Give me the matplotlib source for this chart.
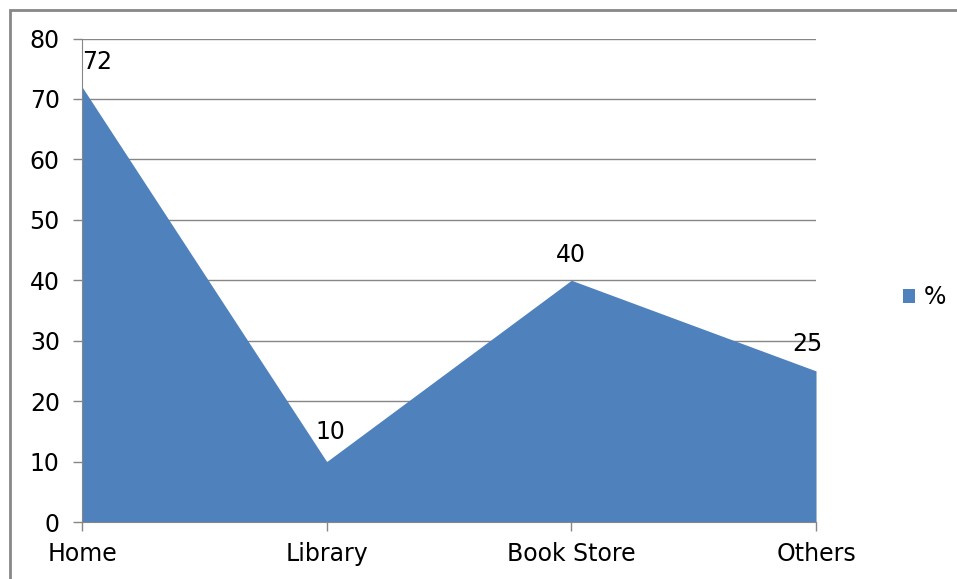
import numpy as np
import matplotlib.pyplot as plt
from matplotlib.patches import Rectangle

categories = ['Home', 'Library', 'Book Store', 'Others']
percent = [72, 10, 40, 25]
yticks = [0, 10, 20, 30, 40, 50, 60, 70, 80]

plt.rcParams['font.family'] = ['DejaVu Sans']
FS = 17

fig = plt.figure(figsize=(9.57, 5.79), dpi=100)
ax = fig.add_axes([0.0857, 0.0984, 0.7670, 0.8351])

x = np.arange(len(categories))
ax.fill_between(x, percent, 0, color='#4F81BD', linewidth=0, zorder=2, label='%')

ax.set_xlim(x[0], x[-1])
ax.set_ylim(0, 80)
ax.set_yticks(yticks)
ax.set_xticks(x)
ax.set_xticklabels(categories)
ax.grid(axis='y', color='#868686', linewidth=1, zorder=0)
ax.tick_params(axis='both', colors='#868686', labelcolor='black', labelsize=FS, length=6.5, width=1)
ax.tick_params(axis='x', pad=8)
ax.tick_params(axis='y', pad=9.5)
for side in ['top', 'right']:
    ax.spines[side].set_visible(False)
for side in ['left', 'bottom']:
    ax.spines[side].set_color('#868686')
    ax.spines[side].set_zorder(3)

# value labels above each point, nudged inward at the edges
offsets = [11, 3, 0, -6.5]
lifts = [18, 21, 18, 19.5]
for xi, v, dx, dy in zip(x, percent, offsets, lifts):
    ax.annotate(str(v), (xi, v), xytext=(dx, dy), textcoords='offset points',
                ha='center', va='center', fontsize=FS)

ax.legend(loc='center left', bbox_to_anchor=(1.09, 0.465), frameon=False,
          fontsize=FS, handlelength=0.5, handleheight=0.5, handletextpad=0.35)

# outer chart border
fig.patches.append(Rectangle((10 / 957, -0.01), 1.0, 1 - 10 / 579 + 0.01,
                             transform=fig.transFigure, fill=False,
                             edgecolor='#878787', linewidth=2))

fig.savefig('out.png', dpi=100)
